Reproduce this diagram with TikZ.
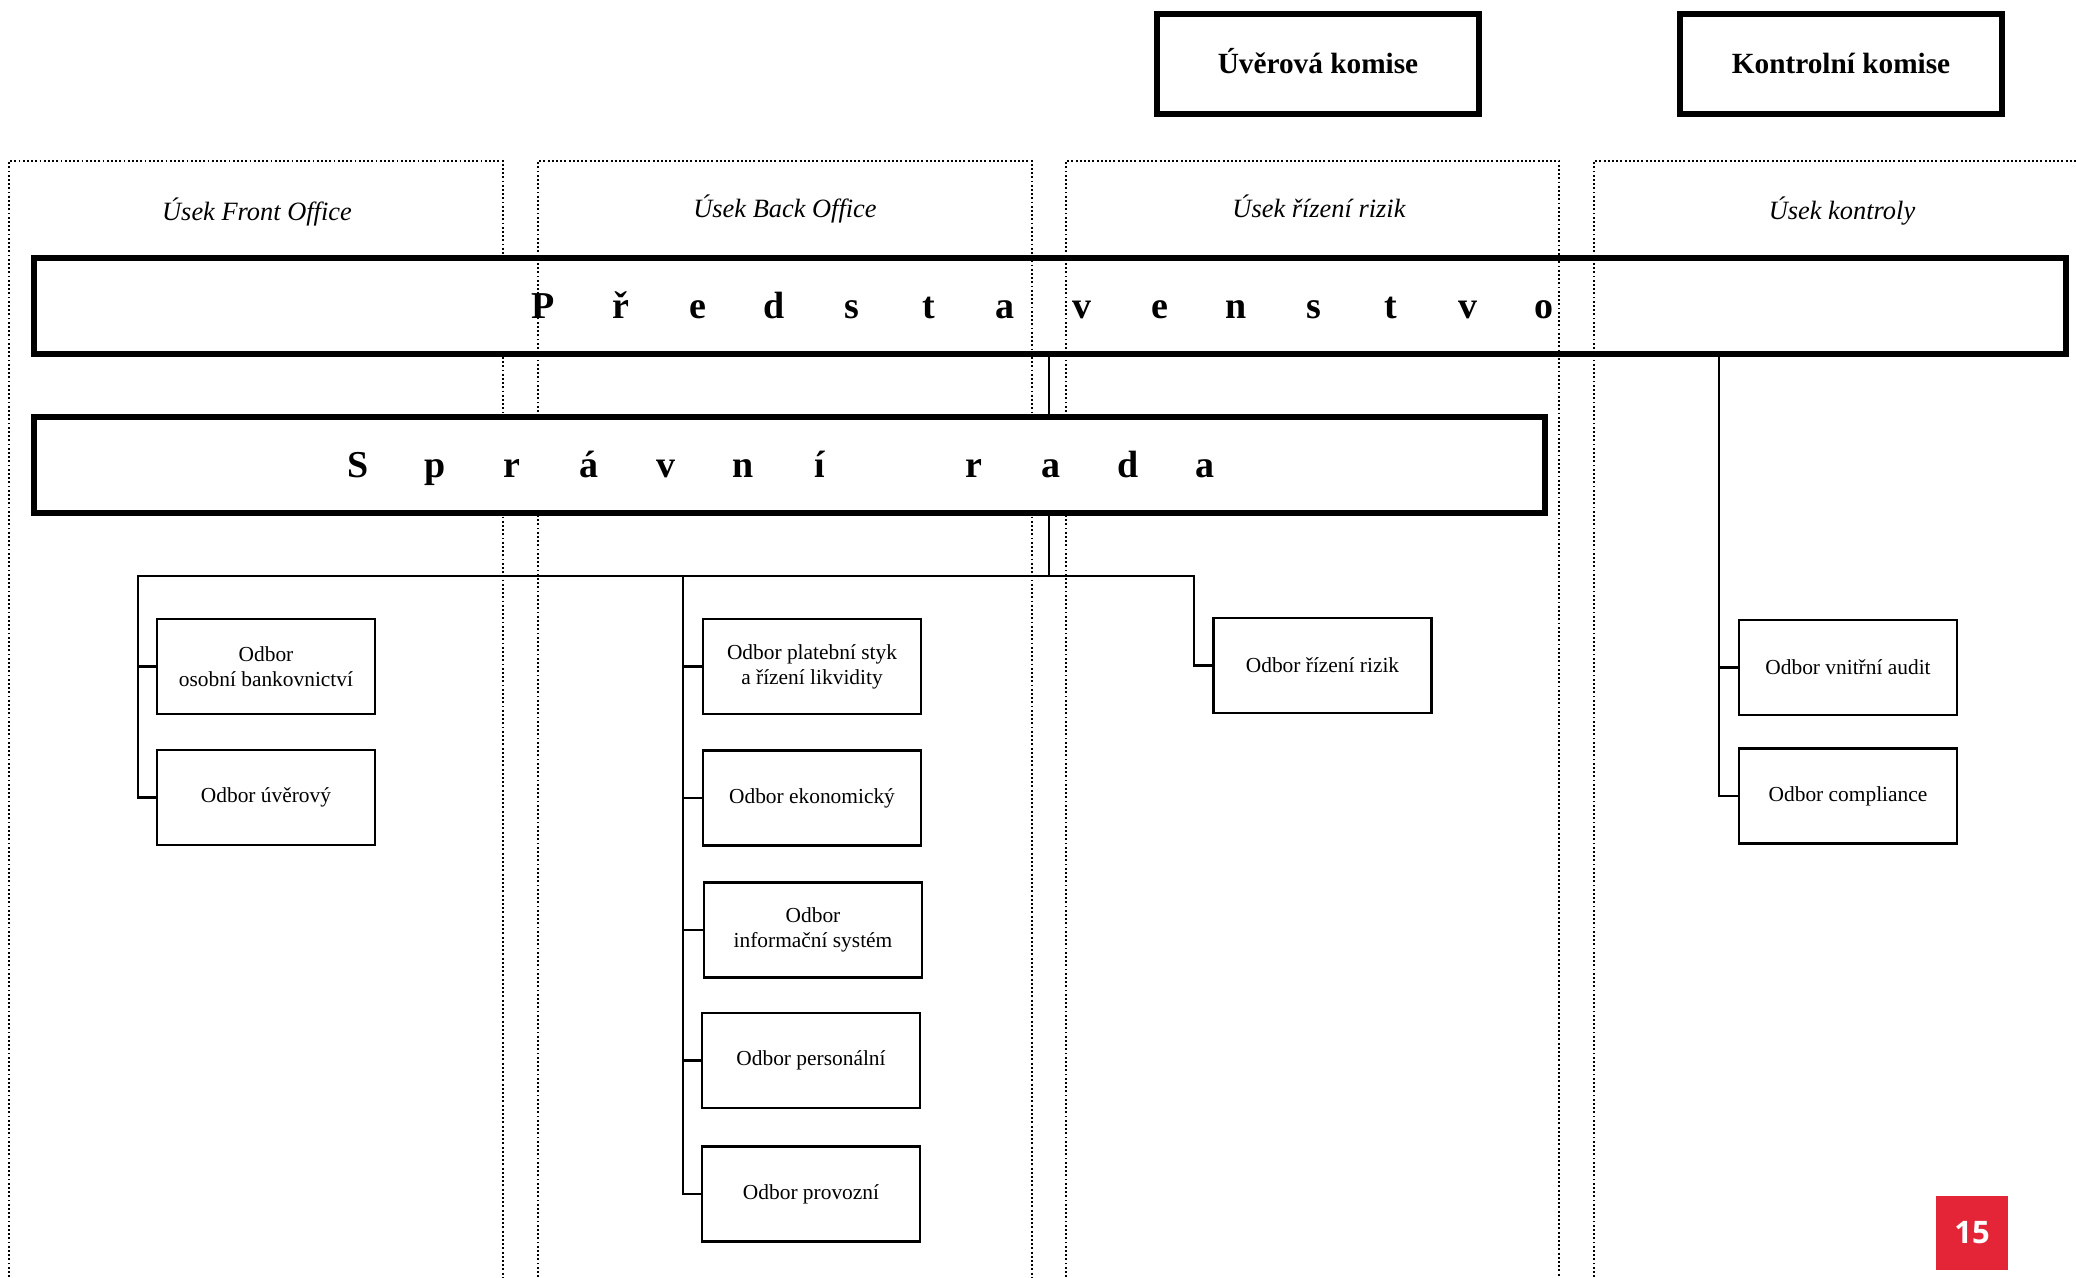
\documentclass[tikz,border=0pt]{standalone}
\usepackage{fontspec}
\setmainfont{Liberation Serif}
\newfontfamily\numfont{Open Sans}
\definecolor{pagered}{RGB}{228,37,56}
\newcommand\lslot[1]{\makebox[77pt]{#1}}
\begin{document}
\begin{tikzpicture}[x=1pt,y=-1pt,
  dotcol/.style={line width=1.9pt, dash pattern=on 1.9pt off 2.3pt},
  bigbox/.style={draw, line width=5.5pt, fill=white, inner sep=0pt, minimum height=96pt},
  headbox/.style={draw, line width=5.5pt, minimum width=322pt, minimum height=100pt, inner sep=0pt,
    text height=19.4pt, text depth=0pt, font=\bfseries\fontsize{29.3}{34}\selectfont},
  dept/.style={draw, line width=2.2pt, fill=white, minimum width=218pt, minimum height=95pt, inner sep=0pt,
    align=center, font=\fontsize{21.4}{25}\selectfont},
  conn/.style={line width=2.2pt},
  usek/.style={anchor=base, inner sep=0pt, font=\itshape\fontsize{26.4}{30}\selectfont},
  spaced/.style={anchor=base, inner sep=0pt, font=\bfseries\fontsize{38}{44}\selectfont}]
\useasboundingbox (0,0) rectangle (2076,1277);

% column 1 (hidden behind the boards)
\draw[dotcol] (9,1277) -- (9,161) -- (503,161) -- (503,1277);
% board of directors
\node[bigbox, minimum width=2032pt] (pred) at (1050,306) {};
% columns 2-4
\draw[dotcol] (538,1277) -- (538,161) -- (1032,161) -- (1032,1277);
\draw[dotcol] (1066,1277) -- (1066,161) -- (1559,161) -- (1559,1277);
\draw[dotcol] (1594,1277) -- (1594,161) -- (2076,161);
% administrative board
\node[bigbox, minimum width=1511pt] (sprav) at (789.5,465) {};

\node[spaced] (predT) at (1044,318.6) {\lslot{P}\lslot{ř}\lslot{e}\lslot{d}\lslot{s}\lslot{t}\lslot{a}\lslot{v}\lslot{e}\lslot{n}\lslot{s}\lslot{t}\lslot{v}\lslot{o}};
\node[spaced] (spravT) at (781.5,477.6) {\lslot{S}\lslot{p}\lslot{r}\lslot{á}\lslot{v}\lslot{n}\lslot{í}\lslot{}\lslot{r}\lslot{a}\lslot{d}\lslot{a}};

% committees
\node[headbox] (uver) at (1318,64) {Úvěrová komise};
\node[headbox] (kontr) at (1841,64) {Kontrolní komise};

% column labels
\node[usek] (lFront) at (257,220) {Úsek Front Office};
\node[usek] (lBack) at (785,217) {Úsek Back Office};
\node[usek] (lRiz) at (1319,217) {Úsek řízení rizik};
\node[usek] (lKon) at (1842,219) {Úsek kontroly};

% departments
\node[dept] (osobni) at (266,666.5) {Odbor\\osobní bankovnictví};
\node[dept] (uverovy) at (266,797.5) {Odbor úvěrový};
\node[dept] (platebni) at (812,666.5) {Odbor platební styk\\a řízení likvidity};
\node[dept] (ekon) at (812,798) {Odbor ekonomický};
\node[dept] (info) at (813,930) {Odbor\\informační systém};
\node[dept] (person) at (811,1060.5) {Odbor personální};
\node[dept] (provoz) at (811,1194) {Odbor provozní};
\node[dept] (rizeni) at (1322.5,665.5) {Odbor řízení rizik};
\node[dept] (audit) at (1848,667.5) {Odbor vnitřní audit};
\node[dept] (compl) at (1848,796) {Odbor compliance};

% connectors
\coordinate (busL) at (138,576);
\coordinate (busB) at (683,576);
\coordinate (busM) at (1049,576);
\coordinate (busR) at (1194,576);
\coordinate (kx) at (1719,0);
\draw[conn] (pred.south -| busM) -- (sprav.north -| busM);
\draw[conn] (sprav.south -| busM) -- (busM);
\draw[conn] (uverovy.west) -- (busL |- uverovy.west) -- (busL) -- (busR) -- (busR |- rizeni.west) -- (rizeni.west);
\draw[conn] (busL |- osobni.west) -- (osobni.west);
\draw[conn] (busB) -- (busB |- provoz.west) -- (provoz.west);
\draw[conn] (busB |- platebni.west) -- (platebni.west);
\draw[conn] (busB |- ekon.west) -- (ekon.west);
\draw[conn] (busB |- info.west) -- (info.west);
\draw[conn] (busB |- person.west) -- (person.west);
\draw[conn] (pred.south -| kx) -- (kx |- compl.west) -- (compl.west);
\draw[conn] (kx |- audit.west) -- (audit.west);

% page number
\node[fill=pagered, minimum width=72pt, minimum height=74pt, inner sep=0pt, text=white,
  font=\numfont\bfseries\fontsize{31}{36}\selectfont] (page) at (1972,1233) {15};
\end{tikzpicture}
\end{document}
